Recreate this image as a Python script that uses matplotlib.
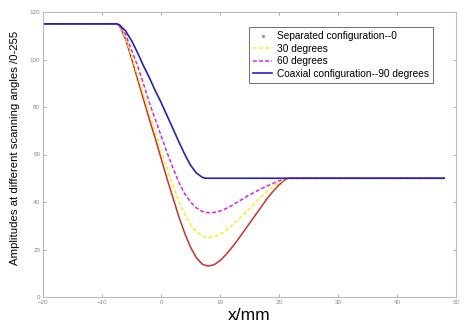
import matplotlib
matplotlib.use("Agg")
import matplotlib.pyplot as plt
from matplotlib.lines import Line2D

plt.rcParams['font.family'] = ['Liberation Sans', 'DejaVu Sans']

# Separated configuration (0 deg) - red solid
x_red = [-20, -7.5, -7, -6, -5, -4, -3, -2, -1, 0, 1, 2, 3, 4, 5, 6, 7, 8, 9, 10,
         11, 12, 13, 14, 15, 16, 17, 18, 19, 20, 21, 21.5, 48]
y_red = [115, 115, 114, 108.5, 100.5, 92, 83.5, 75, 67, 58.5, 50, 42, 34, 27, 21, 16.5, 13.8, 13, 13.6, 15.3,
         17.8, 20.8, 24, 27.5, 31, 34.5, 38, 41.5, 44.5, 47.2, 49.3, 50, 50]

# 30 degrees - yellow dashed
x_30 = [-20, -7.5, -7, -6, -5, -4, -3, -2, -1, 0, 1, 2, 3, 4, 5, 6, 7, 8, 9, 10,
        11, 12, 13, 14, 15, 16, 17, 18, 19, 20, 21, 21.5, 48]
y_30 = [115, 115, 114.2, 109, 101.5, 93.5, 85.5, 77.5, 70, 62, 54.5, 47, 40.5, 35, 30.5, 27.5, 25.7, 25, 25.3, 26.3,
        28, 30, 32.3, 34.7, 37.2, 39.7, 42.2, 44.5, 46.5, 48.2, 49.5, 50, 50]

# 60 degrees - magenta dashed
x_60 = [-20, -7.5, -7, -6, -5, -4, -3, -2, -1, 0, 1, 2, 3, 4, 5, 6, 7, 8, 9, 10,
        11, 12, 13, 14, 15, 16, 17, 18, 19, 20, 21, 21.5, 48]
y_60 = [115, 115, 114.5, 110.5, 104, 97.5, 90, 82, 75, 68, 61, 54.5, 48.5, 43.5, 40, 37.5, 36, 35.5, 35.6, 36.2,
        37.2, 38.5, 40, 41.5, 43, 44.3, 45.6, 46.8, 47.9, 48.9, 49.6, 50, 50]

# Coaxial configuration (90 deg) - blue solid
x_90 = [-20, -7.5, -7, -6, -5, -4, -3, -2, -1, 0, 1, 2, 3, 4, 5, 6, 7, 7.5, 48]
y_90 = [115, 115, 114.5, 112, 108, 103, 97.5, 92.5, 87, 82, 76.5, 71, 65.5, 60.2, 55.5, 52.2, 50.4, 50, 50]

labels = ["Separated configuration--0", "30 degrees", "60 degrees",
          "Coaxial configuration--90 degrees"]
xticks = [-20, -10, 0, 10, 20, 30, 40, 50]
yticks = [0, 20, 40, 60, 80, 100, 120]

fig = plt.figure(figsize=(4.67, 3.27), dpi=100)
ax = fig.add_axes([43/467, 30/327, 413/467, 285/327])

ax.plot(x_red, y_red, color='#cc3030', lw=1.1)
ax.plot(x_30, y_30, color='#f5f020', lw=1.1, ls=(0, (2.5, 1.5)))
ax.plot(x_60, y_60, color='#dd22dd', lw=1.1, ls=(0, (2.5, 1.5)))
ax.plot(x_90, y_90, color='#2222bb', lw=1.2)

ax.set_xlim(-20, 50)
ax.set_ylim(0, 120)
ax.set_xticks(xticks)
ax.set_yticks(yticks)
ax.tick_params(direction='in', length=2.5, width=0.5, labelsize=4.5,
               colors='#888888', top=True, right=True, pad=2)
for s in ax.spines.values():
    s.set_color('#bbbbbb')
    s.set_linewidth(0.8)

ax.set_xlabel('x/mm', fontsize=12.5, labelpad=2.5)
ax.set_ylabel('Amplitudes at different scanning angles /0-255', fontsize=8.2)
ax.yaxis.set_label_coords(-0.056, 0.523)

handles = [
    Line2D([], [], color='#999999', marker='.', markersize=2.5, ls='none'),
    Line2D([], [], color='#f5f020', lw=1.1, ls=(0, (2.5, 1.5))),
    Line2D([], [], color='#dd22dd', lw=1.1, ls=(0, (2.5, 1.5))),
    Line2D([], [], color='#2222bb', lw=1.2),
]
leg = ax.legend(handles, labels, loc='upper right', bbox_to_anchor=(0.944, 0.947),
                fontsize=7.3, frameon=True, fancybox=False, framealpha=1,
                edgecolor='#555555', handlelength=1.8, handletextpad=0.5,
                borderpad=0.4, labelspacing=0.25, borderaxespad=0)
leg.get_frame().set_linewidth(0.6)

fig.savefig('out.png', dpi=100)
